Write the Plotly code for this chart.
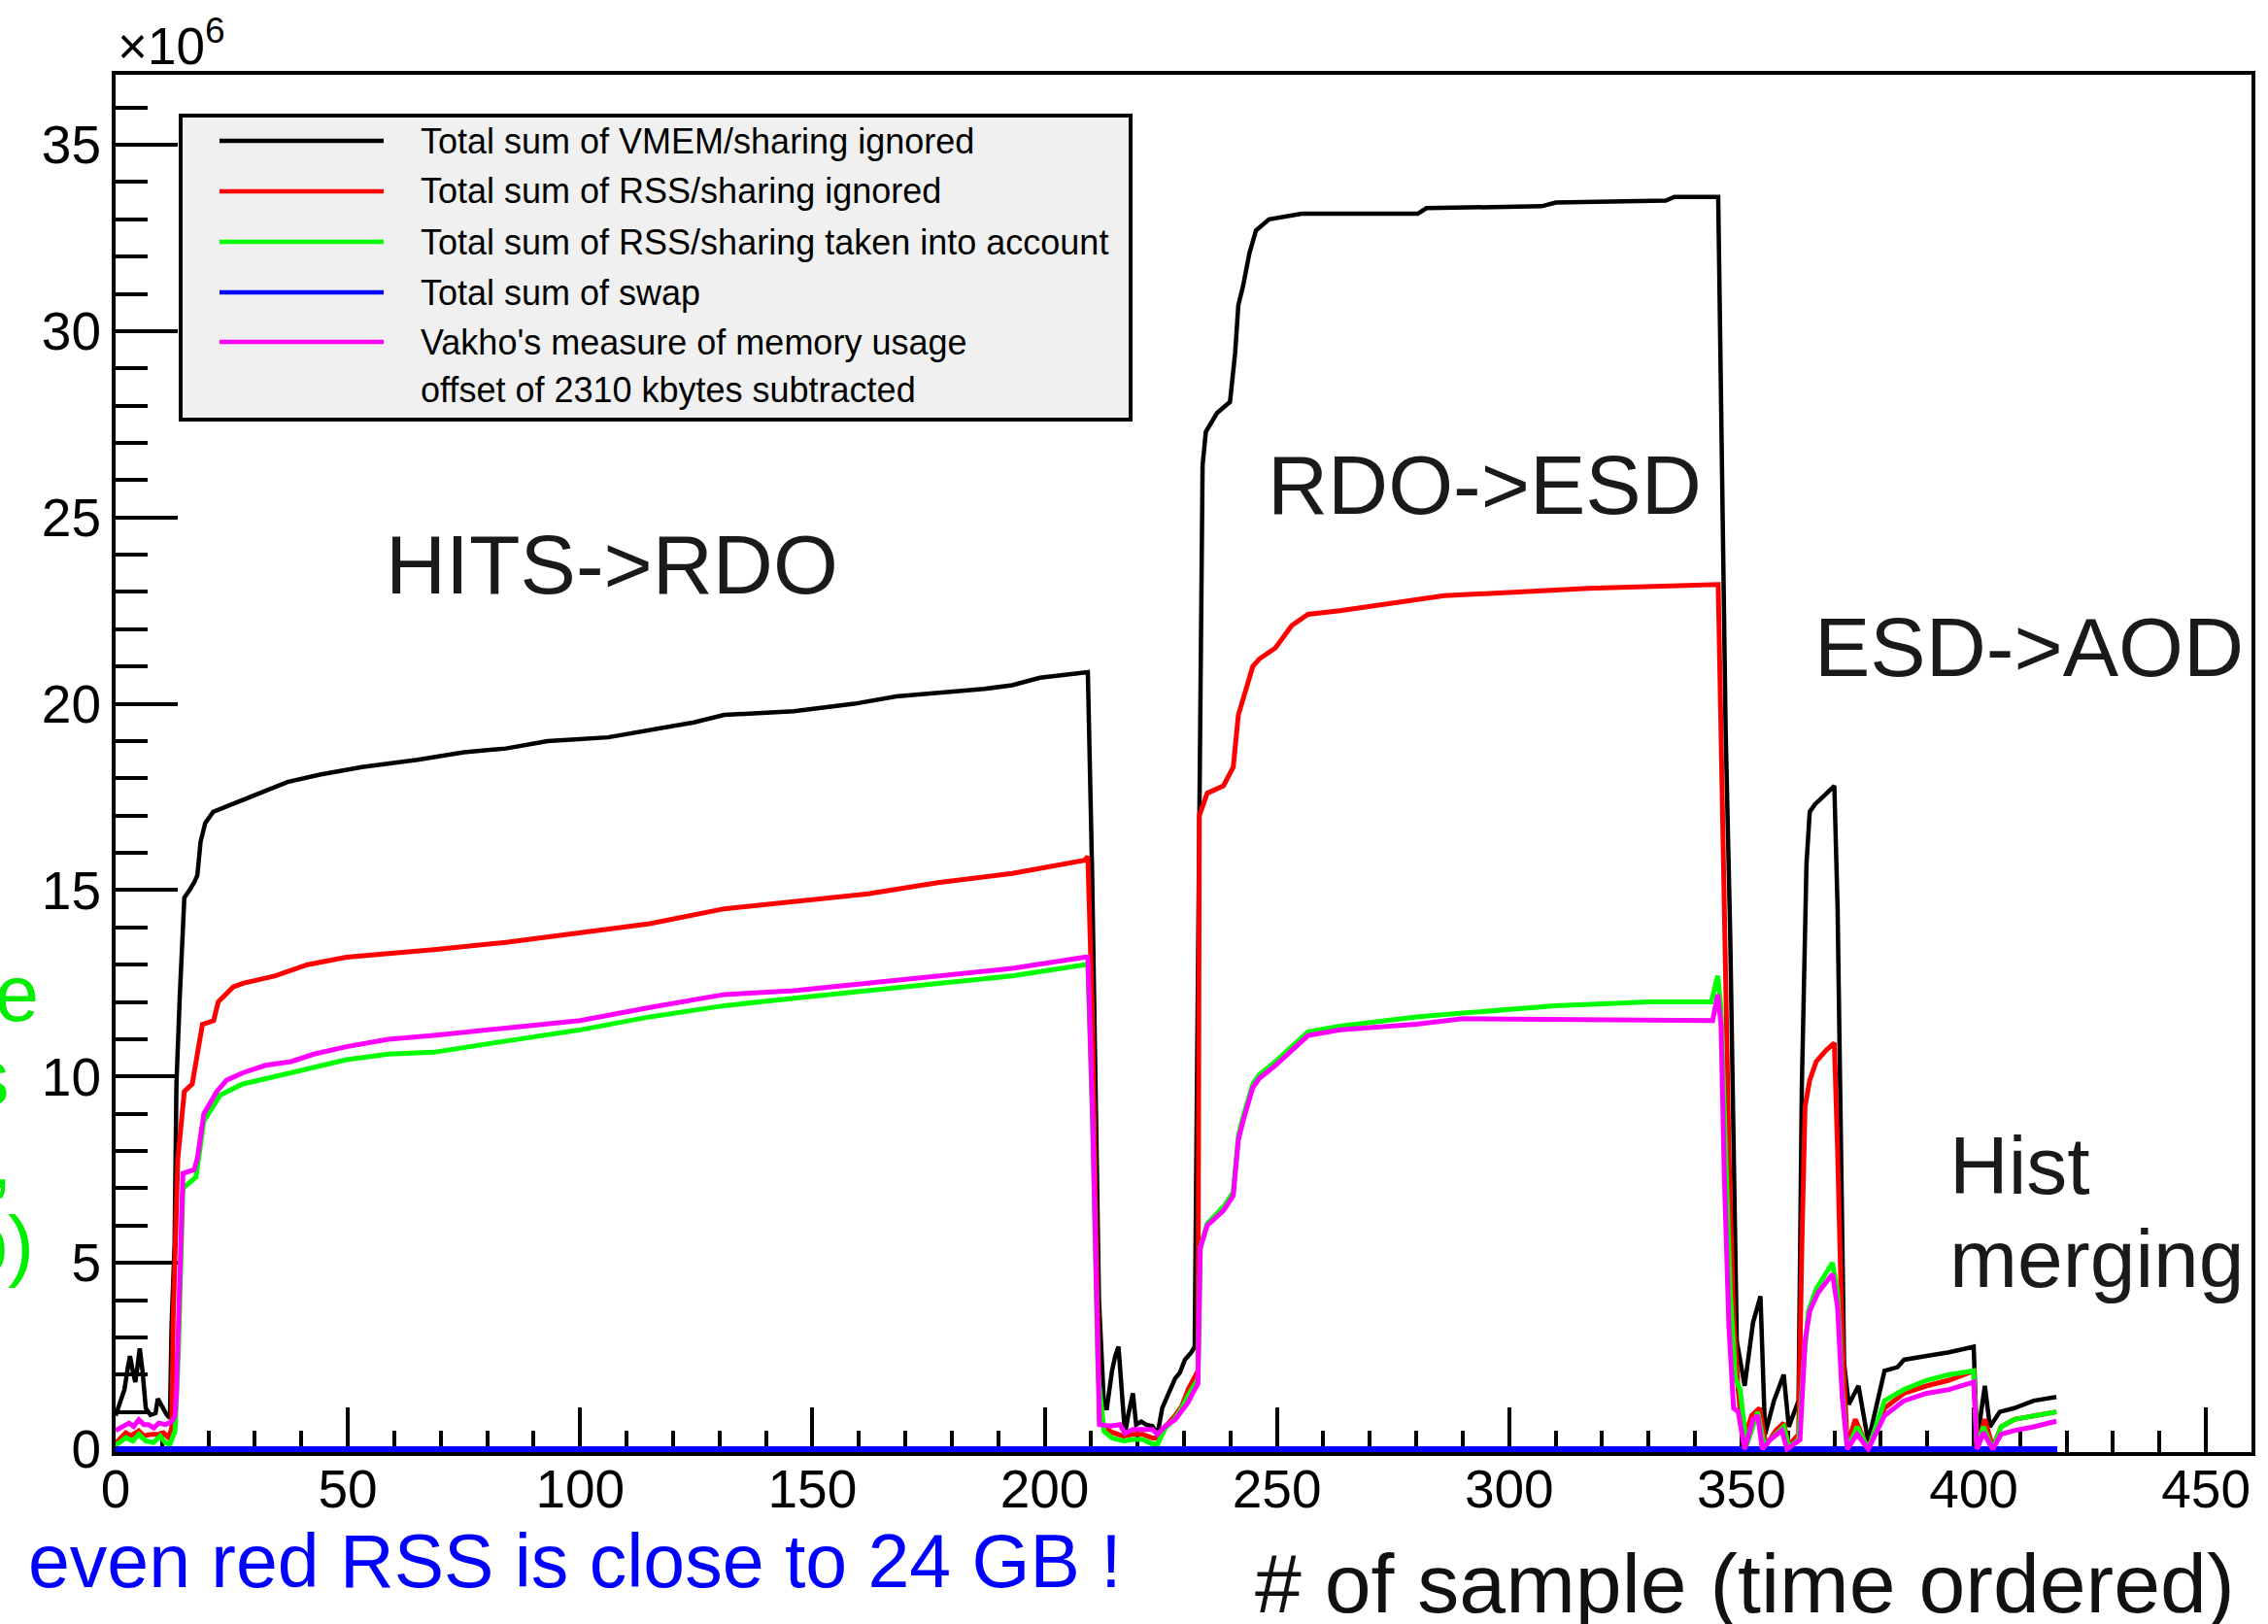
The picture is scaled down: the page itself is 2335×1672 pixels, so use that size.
import plotly.graph_objects as go

# ---------------- data (values in units of 10^6) ----------------
vmem_x = [0, 1.9, 2.65, 3.1, 3.7, 4.25, 4.7, 5.2, 5.8, 6.5, 7.5, 8.6, 9.1, 9.9, 11.0, 11.7,
          12.05, 12.7, 13.1, 13.8, 14.5, 14.8, 15.9, 16.9, 17.6, 18.3, 19.3, 21, 25, 31, 37, 44,
          53, 65, 75, 84, 93, 106, 115, 124.5, 131, 146, 159, 168, 187, 193, 199, 208.6, 209.3,
          210.2, 211.7, 212.8, 213.4, 214.5, 215.2, 215.9, 216.6, 217.3, 218.0, 219.0, 219.7,
          220.8, 221.8, 223.2, 224.3, 225.3, 226.7, 228.1, 229.1, 230.2, 231.6, 232.3, 232.8,
          233.4, 234.0, 234.7, 237.1, 239.9, 241.0, 241.7, 242.7, 244.1, 245.5, 248.3, 255.4,
          280.3, 282.2, 307, 310, 333.7, 335.6, 345.0, 345.8, 346.6, 347.6, 348.3, 349.0, 350.7,
          352.5, 354.1, 355.1, 357.0, 359.1, 360.2, 362.3, 363.0, 364.0, 364.7, 365.8, 367.5,
          370.0, 370.7, 371.4, 372.1, 373.1, 375.2, 377.3, 380.8, 383.6, 385.0, 389.9, 394.7,
          400.0, 400.7, 402.4, 403.5, 405.6, 408.7, 412.9, 417.8]
vmem_y = [0.9, 1.6, 2.2, 2.5, 2.1, 1.8, 2.2, 2.7, 2.1, 1.1, 0.92, 0.97, 1.35, 1.18, 0.92, 0.84,
          3.3, 5.5, 9.8, 12.1, 14.0, 14.8, 15.0, 15.2, 15.4, 16.3, 16.8, 17.1, 17.3, 17.6, 17.9, 18.1,
          18.3, 18.5, 18.7, 18.8, 19.0, 19.1, 19.3, 19.5, 19.7, 19.8, 20.0, 20.2, 20.4, 20.5, 20.7, 20.85, 20.85,
          15.6, 4.0, 1.1, 1.1, 2.1, 2.5, 2.75, 1.35, 0.4, 0.92, 1.5, 0.66,
          0.74, 0.66, 0.62, 0.4, 1.1, 1.5, 1.9, 2.05, 2.4, 2.6, 2.75, 10.0,
          20.0, 26.4, 27.3, 27.8, 28.1, 29.4, 30.7, 31.2, 32.1, 32.7, 33.0, 33.15,
          33.15, 33.3, 33.35, 33.45, 33.5, 33.6, 33.6, 26.0, 19.3, 13.7, 8.0, 2.9, 1.7,
          3.4, 4.1, 0.4, 1.3, 2.0, 0.6, 1.3, 9.7, 15.7, 17.1, 17.3, 17.5,
          17.8, 14.5, 8.0, 2.3, 1.2, 1.7, 0.2, 2.1, 2.2, 2.4, 2.5, 2.6,
          2.75, 0.2, 1.7, 0.6, 1.0, 1.1, 1.3, 1.4]

rss_x = [0, 0.9, 2.2, 3.3, 5.0, 6.1, 7.8, 9.3, 10.3, 11.4, 12.1, 12.4, 13.1, 13.4, 14.8, 16.5,
         18.7, 21.1, 22.1, 25.3, 27.4, 34.4, 41.3, 49.7, 58.7, 68.5, 84, 100, 115, 131, 146, 162,
         177, 193, 208.6, 209.3, 210.2, 211.2, 211.8, 212.8, 214.5, 217, 219, 221.1, 223.2,
         224.3, 226, 228.1, 229.5, 230.9, 232.3, 233.0, 233.3, 235, 238.5, 240.6, 241.7, 242.7,
         244.8, 246.2, 249.7, 253.2, 256.7, 263.6, 286, 302, 317, 345.0, 345.6, 345.9, 346.6,
         347.3, 348.3, 349.3, 350.4, 352.2, 353.9, 355.3, 357.4, 359.1, 360.2, 362.3, 363.0,
         363.7, 364.7, 366.1, 368.2, 370.0, 370.7, 371.7, 372.8, 374.5, 377.3, 380.8, 385.0,
         389.9, 394.7, 400.0, 400.7, 402.4, 404.1, 405.9, 408.7, 412.9, 417.8]
rss_y = [0.15, 0.27, 0.44, 0.36, 0.49, 0.36, 0.4, 0.4, 0.44, 0.31, 0.57, 3.5, 7.5, 7.8, 9.6, 9.8,
         11.4, 11.5, 12.0, 12.4, 12.5, 12.7, 13.0, 13.2, 13.3, 13.4, 13.6, 13.85, 14.1, 14.5, 14.7, 14.9,
         15.2, 15.45, 15.8, 15.9, 12.0, 5.0, 0.8, 0.6, 0.45, 0.35, 0.4, 0.4, 0.3,
         0.3, 0.6, 0.9, 1.15, 1.6, 1.9, 2.1, 17.0, 17.6, 17.8, 18.3, 19.7, 20.1,
         21.0, 21.2, 21.5, 22.1, 22.4, 22.5, 22.9, 23.0, 23.1, 23.2, 19.3, 17.4, 13.0,
         8.0, 3.5, 1.6, 0.2, 0.9, 1.1, 0.1, 0.5, 0.7, 0.1, 0.4, 5.4,
         9.2, 9.9, 10.4, 10.7, 10.9, 8.0, 2.9, 0.1, 0.8, 0.0, 1.1, 1.5,
         1.7, 1.85, 2.1, 0.1, 0.8, 0.05, 0.6, 0.8, 0.9, 1.0]

rss_shared_x = [0, 0.9, 2.2, 3.7, 5.0, 6.5, 8.2, 9.6, 10.7, 11.7, 12.8, 13.5, 14.2, 14.5, 17.3,
                19.0, 22.5, 27.4, 34.4, 41.3, 49.7, 58.7, 68.5, 84, 100, 115, 131, 146, 162, 177,
                193, 208.6, 209.3, 210.5, 211.5, 212.8, 214.5, 217, 219, 221.1, 223.2, 224.3, 226,
                228.1, 229.5, 230.9, 232.3, 233.0, 233.5, 235, 238.5, 240.6, 241.7, 242.7, 244.8,
                246.2, 249.7, 253.2, 256.7, 263.6, 280, 290, 310, 330, 343.5, 344.9, 345.6, 346.6,
                347.6, 348.7, 349.7, 351.1, 353.5, 354.9, 359.1, 360.2, 362.3, 363.4, 364.4, 366.1,
                369.6, 370.7, 371.7, 372.8, 374.9, 377.3, 380.8, 385.0, 389.9, 394.7, 400.0, 400.7,
                402.1, 404.1, 405.9, 408.7, 412.9, 417.8]
rss_shared_y = [0.1, 0.18, 0.31, 0.22, 0.40, 0.22, 0.18, 0.35, 0.18, 0.13, 0.49, 2.5, 5.5, 7.0, 7.3,
                8.8, 9.5, 9.8, 10.0, 10.2, 10.45, 10.6, 10.65, 10.95, 11.25, 11.6, 11.9, 12.1, 12.3, 12.5,
                12.7, 13.0, 13.0, 8.0, 2.0, 0.48, 0.3, 0.22, 0.26, 0.26, 0.14, 0.14, 0.57,
                0.83, 1.1, 1.44, 1.7, 1.88, 5.4, 6.05, 6.5, 6.9, 8.4, 8.9, 9.8,
                10.05, 10.4, 10.8, 11.2, 11.35, 11.6, 11.7, 11.9, 12.0, 12.0, 12.7, 11.8, 8.0,
                4.2, 1.9, 1.6, 0.1, 1.0, 0.1, 0.6, 0.05, 0.25, 2.3, 3.7, 4.3,
                5.0, 4.2, 1.6, 0.0, 0.6, 0.0, 1.3, 1.6, 1.85, 2.0, 2.1, 0.1,
                0.6, 0.0, 0.6, 0.8, 0.9, 1.0]

swap_x = [0, 418]
swap_y = [0, 0]

vakho_x = [0, 0.9, 2.9, 3.9, 5.0, 6.1, 7.1, 8.2, 9.3, 10.7, 12.1, 12.8, 13.1, 13.8, 14.5, 16.9,
           17.6, 19.0, 21.8, 23.9, 27.4, 32.3, 37.8, 42.7, 49.7, 58.7, 68.5, 84, 100, 115, 131,
           146, 162, 177, 193, 208.6, 209.3, 210.3, 211.2, 211.8, 214.1, 216.2, 217.3, 219.0,
           221.1, 223.2, 224.3, 226.0, 228.1, 229.5, 230.9, 232.3, 233.0, 233.5, 235, 238.5,
           240.6, 241.7, 242.7, 244.8, 246.2, 249.7, 253.2, 256.7, 263.6, 280, 290, 343.8, 344.9,
           345.6, 346.3, 347.3, 348.3, 349.3, 350.7, 352.5, 353.5, 354.5, 356.2, 358.7, 359.8,
           362.6, 363.7, 364.7, 366.5, 369.6, 370.7, 371.7, 372.8, 374.9, 377.3, 380.8, 385.0,
           389.9, 394.7, 400.0, 400.7, 402.1, 404.1, 405.9, 408.7, 412.9, 417.8]
vakho_y = [0.5, 0.57, 0.70, 0.61, 0.79, 0.66, 0.66, 0.57, 0.70, 0.66, 0.74, 0.9, 1.5, 4.5, 7.4, 7.5,
           7.8, 9.0, 9.6, 9.9, 10.1, 10.3, 10.4, 10.6, 10.8, 11.0, 11.1, 11.3, 11.5, 11.85, 12.2,
           12.3, 12.5, 12.7, 12.9, 13.2, 13.2, 9.0, 3.0, 0.66, 0.62, 0.66, 0.43, 0.53,
           0.53, 0.53, 0.4, 0.62, 0.79, 1.0, 1.26, 1.6, 1.75, 5.4, 6.0, 6.4,
           6.8, 8.3, 8.8, 9.7, 9.95, 10.3, 10.7, 11.1, 11.25, 11.4, 11.55, 11.5, 12.2,
           11.4, 7.4, 3.3, 1.1, 1.0, 0.0, 0.8, 0.9, 0.0, 0.25, 0.5, 0.0,
           0.25, 2.9, 3.7, 4.2, 4.7, 3.8, 1.4, 0.0, 0.4, 0.0, 0.9, 1.3,
           1.5, 1.6, 1.8, 0.0, 0.45, 0.0, 0.4, 0.5, 0.6, 0.75]

series_names = [
    "Total sum of VMEM/sharing ignored",
    "Total sum of RSS/sharing ignored",
    "Total sum of RSS/sharing taken into account",
    "Total sum of swap",
    "Vakho's measure of memory usage",
]
extra_legend_text = "offset of 2310 kbytes subtracted"
series_colors = ["#000000", "#ff0000", "#00ff00", "#0000ff", "#ff00ff"]

x_tick_vals = [0, 50, 100, 150, 200, 250, 300, 350, 400, 450]
y_tick_vals = [0, 5, 10, 15, 20, 25, 30, 35]

FONT = "Liberation Sans, Arial, Helvetica, sans-serif"

# ---------------- geometry (pixels) ----------------
W, H = 2335, 1672
PL, PR, PT, PB = 119, 2318, 77, 1495     # plot area edges
Y0_PX = 1492                               # pixel row of value 0
Y_PER_UNIT = 38.37                         # pixels per 10^6
y_lo = -(PB - Y0_PX) / Y_PER_UNIT
y_hi = (Y0_PX - PT) / Y_PER_UNIT


def px_x(p):
    return (p - PL) / (PR - PL)


def px_y(p):
    return (PB - p) / (PB - PT)


# ---------------- figure ----------------
fig = go.Figure()
all_x = [vmem_x, rss_x, rss_shared_x, swap_x, vakho_x]
all_y = [vmem_y, rss_y, rss_shared_y, swap_y, vakho_y]
widths = [4.5, 5, 5, 6, 5]
for i, (xs, ys) in enumerate(zip(all_x, all_y)):
    fig.add_trace(go.Scatter(
        x=xs, y=ys, mode="lines", name=series_names[i],
        line=dict(color=series_colors[i], width=widths[i]),
        showlegend=False,
    ))

fig.update_layout(
    width=W, height=H,
    margin=dict(l=PL, r=W - PR, t=PT, b=H - PB, pad=0),
    paper_bgcolor="white", plot_bgcolor="white",
    font=dict(family=FONT, color="black"),
    showlegend=False,
    xaxis=dict(
        range=[0, 459.8], tickmode="array", tickvals=x_tick_vals,
        ticks="inside", ticklen=46, tickwidth=4, tickcolor="black",
        showline=True, linewidth=4, linecolor="black", mirror=True,
        showgrid=False, zeroline=False, layer="below traces", automargin=False,
        tickfont=dict(family=FONT, size=55, color="black"), ticklabelstandoff=-13,
        minor=dict(ticks="inside", ticklen=22, tickwidth=4, tickcolor="black",
                   dtick=10, tick0=0, showgrid=False),
    ),
    yaxis=dict(
        range=[y_lo, y_hi], tickmode="array", tickvals=y_tick_vals,
        ticks="inside", ticklen=64, tickwidth=4, tickcolor="black",
        showline=True, linewidth=4, linecolor="black", mirror=True,
        showgrid=False, zeroline=False, layer="below traces", automargin=False,
        tickfont=dict(family=FONT, size=55, color="black"),
        minor=dict(ticks="inside", ticklen=33, tickwidth=4, tickcolor="black",
                   dtick=1, tick0=0, showgrid=False),
    ),
)

# ---------------- legend box (drawn like the ROOT TLegend) ----------------
shapes = [dict(type="rect", xref="paper", yref="paper",
               x0=px_x(186), x1=px_x(1164), y0=px_y(432), y1=px_y(119),
               fillcolor="#f0f0f0", line=dict(color="black", width=4), layer="above")]
row_y = [145, 197, 249, 301, 352, 402]
for i, col in enumerate(series_colors):
    shapes.append(dict(type="line", xref="paper", yref="paper",
                       x0=px_x(226), x1=px_x(395), y0=px_y(row_y[i]), y1=px_y(row_y[i]),
                       line=dict(color=col, width=4.5), layer="above"))

ann = []
legend_texts = series_names + [extra_legend_text]
for i, t in enumerate(legend_texts):
    ann.append(dict(xref="paper", yref="paper", x=px_x(431), y=px_y(row_y[i]),
                    xanchor="left", yanchor="middle", text=t, showarrow=False,
                    font=dict(family=FONT, size=36, color="black")))

# exponent label
ann.append(dict(xref="paper", yref="paper", x=0.0, y=px_y(PT), xanchor="left", yanchor="bottom",
                text="×10<sup>6</sup>", showarrow=False, yshift=-2,
                font=dict(family=FONT, size=53, color="black")))
# phase labels
phase_font = dict(family=FONT, size=86, color="#1a1a1a")
ann.append(dict(xref="x", yref="y", x=57.7, y=23.74, xanchor="left", yanchor="middle",
                text="HITS->RDO", showarrow=False, font=phase_font))
ann.append(dict(xref="x", yref="y", x=247.5, y=25.88, xanchor="left", yanchor="middle",
                text="RDO->ESD", showarrow=False, font=phase_font))
ann.append(dict(xref="x", yref="y", x=365.3, y=21.53, xanchor="left", yanchor="middle",
                text="ESD->AOD", showarrow=False, font=phase_font))
hist_font = dict(family=FONT, size=84, color="#1a1a1a")
ann.append(dict(xref="x", yref="y", x=394.3, y=7.61, xanchor="left", yanchor="middle",
                text="Hist", showarrow=False, font=hist_font))
ann.append(dict(xref="x", yref="y", x=394.3, y=5.1, xanchor="left", yanchor="middle",
                text="merging", showarrow=False, font=hist_font))
# bottom texts
ann.append(dict(xref="paper", yref="paper", x=px_x(27), y=px_y(1607), xanchor="left", yanchor="middle",
                text="even red RSS is close to 24 GB !", showarrow=False,
                font=dict(family=FONT, size=77, color="#0000ff")))
ann.append(dict(xref="paper", yref="paper", x=px_x(2303), y=px_y(1630), xanchor="right", yanchor="middle",
                text="# of sample (time ordered)", showarrow=False,
                font=dict(family=FONT, size=86, color="#111111")))
# cut-off green side text
green_font = dict(family=FONT, size=81, color="#00ee00")
for txt, xr, yc in [("e", 42, 1023), ("s", 12, 1109), (",", 15, 1195), ("p)", 37, 1281)]:
    ann.append(dict(xref="paper", yref="paper", x=px_x(xr), y=px_y(yc),
                    xanchor="right", yanchor="middle", text=txt, showarrow=False,
                    font=green_font))
fig.update_layout(annotations=ann, shapes=shapes)

fig.write_html("out.html",
               config={"displayModeBar": False},
               post_script="document.body.style.margin='0px';"
                           "document.documentElement.style.overflow='hidden';")
